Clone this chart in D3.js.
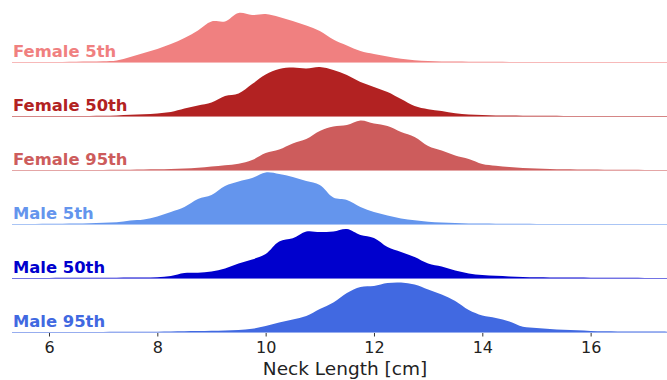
<!DOCTYPE html>
<html>
<head>
<meta charset="utf-8">
<script src="https://cdn.jsdelivr.net/npm/d3@7"></script>
<style>
  html, body { margin: 0; padding: 0; background: #fff; }
  svg { display: block; }
</style>
</head>
<body>
<svg id="chart" width="667" height="380"></svg>
<script>
// ---- data ----
const groups = ["Female 5th", "Female 50th", "Female 95th", "Male 5th", "Male 50th", "Male 95th"];
const colors = ["#F08080", "#B22222", "#CD5C5C", "#6495ED", "#0000CD", "#4169E1"];
const tickValues = [6, 8, 10, 12, 14, 16];
const xLabel = "Neck Length [cm]";

// neck length grid (cm)
const grid = [5.25, 5.5, 5.75, 6.0, 6.25, 6.5, 6.75, 7.0, 7.25, 7.5, 7.75, 8.0, 8.25, 8.5, 8.75,
  9.0, 9.25, 9.5, 9.75, 10.0, 10.25, 10.5, 10.75, 11.0, 11.25, 11.5, 11.75, 12.0, 12.25, 12.5,
  12.75, 13.0, 13.25, 13.5, 13.75, 14.0, 14.25, 14.5, 14.75, 15.0, 15.25, 15.5, 15.75, 16.0,
  16.25, 16.5, 16.75, 17.0, 17.25, 17.5];

// estimated density (arbitrary units) at each grid point
const female5 = [0, 0, 0, 0.05, 0.1, 0.2, 0.4, 0.8, 1.6, 5, 9, 13, 18, 24, 31.5,
  40.5, 40.5, 49, 47, 48, 45, 41, 36.5, 31, 22.5, 16.5, 11, 8, 5.5, 3.2,
  1.8, 1.0, 0.6, 0.4, 0.3, 0.2, 0.15, 0.1, 0.08, 0.05, 0.05, 0.04, 0.03, 0.03,
  0.02, 0.02, 0.01, 0.01, 0.01, 0];
const female50 = [0, 0.02, 0.03, 0.05, 0.05, 0.07, 0.1, 0.3, 0.6, 1.2, 1.8, 2.6, 4, 7.5, 10.5,
  13.5, 20, 22.5, 32, 41.5, 47, 48.5, 47.5, 49, 46, 41, 34, 29, 24, 17,
  10, 6.8, 5, 2.8, 1.6, 1.0, 0.6, 0.4, 0.3, 0.2, 0.15, 0.12, 0.1, 0.08,
  0.06, 0.05, 0.04, 0.03, 0.02, 0.02];
const female95 = [0, 0.02, 0.03, 0.04, 0.05, 0.06, 0.08, 0.1, 0.2, 0.3, 0.5, 0.7, 1.0, 1.4, 2.2,
  3.5, 4.8, 6.3, 10, 17, 20.5, 26.5, 31, 39, 43.5, 45, 49.5, 46.5, 44, 38,
  33, 24, 19.5, 14.5, 11, 6, 4.3, 3, 2, 1.4, 1.1, 0.8, 0.6, 0.4,
  0.3, 0.2, 0.15, 0.1, 0.08, 0.05];
const male5 = [0.02, 0.05, 0.1, 0.2, 0.3, 0.5, 0.8, 1.3, 1.8, 3.5, 4.6, 7.5, 12, 17, 25,
  29, 38, 42.5, 46, 51.5, 50, 47, 43, 39, 26.5, 24, 17, 12, 8.5, 5.5,
  3.8, 2.2, 1.4, 0.9, 0.6, 0.4, 0.3, 0.2, 0.15, 0.1, 0.08, 0.06, 0.05, 0.04,
  0.03, 0.02, 0.02, 0.01, 0.01, 0];
const male50 = [0.02, 0.05, 0.08, 0.1, 0.15, 0.2, 0.25, 0.3, 0.35, 0.4, 0.5, 0.8, 2.0, 5.0, 5.3,
  6.5, 9.5, 14.5, 18.5, 24, 36.5, 39.7, 46.5, 46, 46.5, 49, 43, 40, 31, 26,
  21, 14.5, 11.5, 7.4, 4.5, 3, 2.2, 1.6, 1.1, 0.8, 0.6, 0.5, 0.4, 0.3,
  0.25, 0.2, 0.15, 0.1, 0.08, 0.05];
const male95 = [0.01, 0.02, 0.03, 0.04, 0.05, 0.05, 0.07, 0.1, 0.15, 0.2, 0.28, 0.35, 0.5, 0.7, 0.9,
  1.2, 1.5, 2.0, 3.2, 6, 9.5, 12.5, 16, 23, 29.5, 39, 45, 46, 49, 49.5,
  47.5, 42.5, 37.5, 31, 22, 16.5, 14, 10.5, 5.2, 4, 3, 2.2, 1.7, 1.0,
  0.8, 0.6, 0.5, 0.45, 0.4, 0.35];

const series = [female5, female50, female95, male5, male50, male95];

// ---- layout ----
const svg = d3.select("#chart");
const W = 667;
const x = d3.scaleLinear().domain([5.317, 17.41]).range([12, W]);
const row = d3.scalePoint().domain(groups).range([62, 332]);
const h = d3.scaleLinear().domain([0, 50]).range([0, 50]);

svg.append("defs").append("clipPath").attr("id", "clip")
  .append("rect").attr("x", 12).attr("y", 0).attr("width", W - 12).attr("height", 380);

groups.forEach((g, i) => {
  const base = row(g);
  const pts = grid.map((v, j) => [v, series[i][j]]);
  const area = d3.area()
    .x(d => x(d[0]))
    .y0(base)
    .y1(d => Math.min(base, base - h(d[1])))
    .curve(d3.curveCatmullRom.alpha(0.5));

  const grp = svg.append("g");
  grp.append("path")
    .datum(pts)
    .attr("clip-path", "url(#clip)")
    .attr("d", area)
    .attr("fill", colors[i]);

  grp.append("line")
    .attr("x1", x.range()[0]).attr("x2", x.range()[1])
    .attr("y1", base + 0.5).attr("y2", base + 0.5)
    .attr("stroke", colors[i])
    .attr("stroke-width", 1)
    .attr("stroke-opacity", 0.55);

  grp.append("text")
    .attr("x", 13)
    .attr("y", base - 5)
    .attr("fill", colors[i])
    .attr("font-family", "DejaVu Sans, sans-serif")
    .attr("font-weight", "bold")
    .attr("font-size", 16.4)
    .text(g);
});

// x axis
const axis = d3.axisBottom(x).tickValues(tickValues).tickSize(3.5).tickPadding(5.5);
const ax = svg.append("g").attr("transform", `translate(0,${row(groups[groups.length - 1]) + 1})`).call(axis);
ax.select(".domain").remove();
ax.selectAll(".tick line").attr("stroke", "#333");
ax.selectAll(".tick text")
  .attr("fill", "#222")
  .attr("font-family", "DejaVu Sans, sans-serif")
  .attr("font-size", 16);

svg.append("text")
  .attr("x", 345)
  .attr("y", 375)
  .attr("text-anchor", "middle")
  .attr("fill", "#222")
  .attr("font-family", "DejaVu Sans, sans-serif")
  .attr("font-size", 18.5)
  .text(xLabel);
</script>
</body>
</html>
